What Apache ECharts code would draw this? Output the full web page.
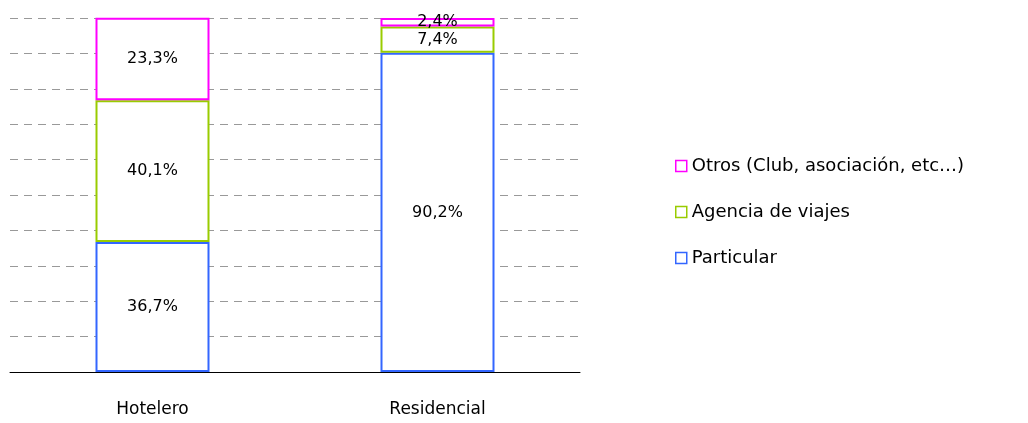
<!DOCTYPE html>
<html><head><meta charset="utf-8">
<script src="https://cdn.jsdelivr.net/npm/echarts@6/dist/echarts.min.js"></script>
<style>html,body{margin:0;padding:0;background:#fff}#c{width:1028px;height:423px}</style>
</head><body><div id="c"></div>
<script>
const categories = ['Hotelero', 'Residencial'];
const particular = [36.7, 90.2];
const agencia = [40.1, 7.4];
const otros = [23.3, 2.4];
const seriesNames = ['Particular', 'Agencia de viajes', 'Otros (Club, asociación, etc…)'];
const colors = ['#3366FF', '#99CC00', '#FF00FF'];
const yTicks = [0, 10, 20, 30, 40, 50, 60, 70, 80, 90, 100];

const font = 'DejaVu Sans';
function mk(name, data, color) {
  return {
    name: name, type: 'bar', stack: 'a', data: data, barWidth: '40%',
    itemStyle: { color: '#fff', borderColor: color, borderWidth: 2 },
    label: { show: true, position: 'inside', color: '#000', fontFamily: font, fontSize: 16,
      formatter: p => p.value.toFixed(1).replace('.', ',') + '%' }
  };
}
const chart = echarts.init(document.getElementById('c'));
chart.setOption({
  animation: false,
  grid: { left: 10, right: 448, top: 18, bottom: 51 },
  legend: {
    data: [seriesNames[2], seriesNames[1], seriesNames[0]],
    orient: 'vertical', left: 675, top: 157, padding: 0, itemGap: 28,
    icon: 'rect', itemWidth: 11, itemHeight: 11, itemStyle: { borderWidth: 1.5 },
    textStyle: { fontFamily: font, fontSize: 18, color: '#000' }
  },
  xAxis: {
    type: 'category', data: categories,
    axisLine: { lineStyle: { color: '#000', width: 1 } },
    axisTick: { show: false },
    axisLabel: { margin: 29, fontFamily: font, fontSize: 17, color: '#000' }
  },
  yAxis: {
    type: 'value', min: yTicks[0], max: yTicks[yTicks.length - 1], interval: 10,
    axisLabel: { show: false }, axisLine: { show: false }, axisTick: { show: false },
    splitLine: { lineStyle: { color: '#999', type: [8, 6], width: 1 } }
  },
  series: [mk(seriesNames[0], particular, colors[0]), mk(seriesNames[1], agencia, colors[1]), mk(seriesNames[2], otros, colors[2])]
});
</script></body></html>
